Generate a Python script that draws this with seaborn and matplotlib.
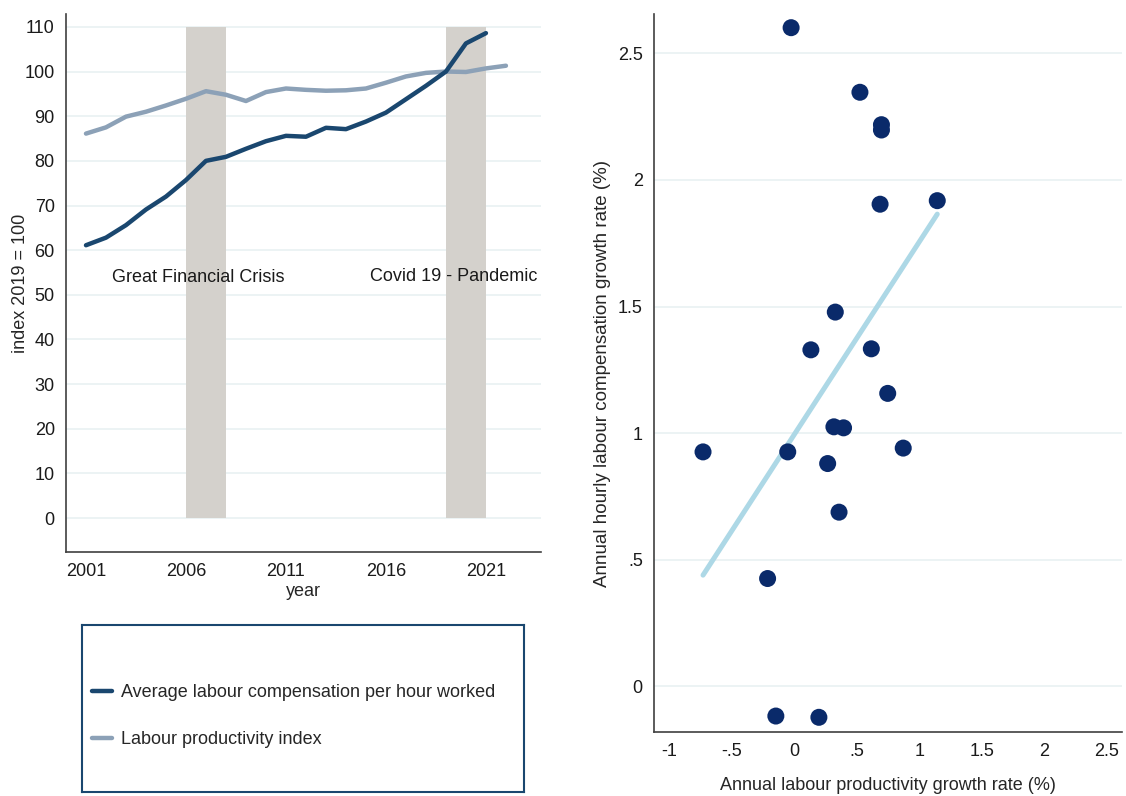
import matplotlib
matplotlib.use("Agg")
import matplotlib.pyplot as plt
import matplotlib.ticker as mticker
import pandas as pd
import seaborn as sns

# --- data ---
years_comp = list(range(2001, 2022))
compensation = [61.1, 62.8, 65.6, 69.1, 72.0, 75.7, 80.0, 80.9, 82.7, 84.4, 85.6,
                85.4, 87.4, 87.1, 88.8, 90.8, 93.8, 96.8, 100.0, 106.3, 108.6]
years_prod = list(range(2001, 2023))
productivity = [86.1, 87.5, 89.9, 91.0, 92.4, 93.9, 95.6, 94.8, 93.4, 95.4, 96.2,
                95.9, 95.7, 95.8, 96.2, 97.5, 98.9, 99.7, 100.0, 99.9, 100.7, 101.3]

crisis_start = [2006, 2019]
crisis_end = [2008, 2021]
crisis_top = 110
crisis_labels = ["Great Financial Crisis", "Covid 19 - Pandemic"]
crisis_label_x = [2002.3, 2015.2]
crisis_label_y = [53.8, 54.0]

prod_growth = [-0.024, 0.526, 0.698, 0.698, 0.687, 1.144, 0.329, 0.134, 0.617, 0.748,
               -0.728, -0.051, 0.318, 0.395, 0.872, 0.268, 0.359, -0.212, -0.146, 0.198]
comp_growth = [2.601, 2.346, 2.218, 2.197, 1.904, 1.918, 1.478, 1.329, 1.333, 1.157,
               0.926, 0.926, 1.025, 1.021, 0.941, 0.880, 0.688, 0.426, -0.117, -0.122]

NAVY = "#1a476f"
LIGHT = "#8ca1b7"
BAND = "#d4d1cc"
DOT = "#0a2a6a"
FIT = "#add8e6"
GRID = "#eaf2f3"
AXIS = "#404040"
FS = 13


def stata_fmt(v, pos):
    s = f"{v:g}"
    if s.startswith("0.") and len(s) > 2:
        s = s[1:]
    elif s.startswith("-0.") and len(s) > 3:
        s = "-" + s[2:]
    return s


def estilo(ax):
    for lado in ["top", "right"]:
        ax.spines[lado].set_visible(False)
    for lado in ["left", "bottom"]:
        ax.spines[lado].set_color(AXIS)
        ax.spines[lado].set_linewidth(1.2)
    ax.tick_params(axis="both", colors=AXIS, labelcolor="#1a1a1a", length=5,
                   width=1.0, labelsize=FS, pad=3)
    ax.yaxis.grid(True, color=GRID, linewidth=1.3)
    ax.xaxis.grid(False)
    ax.set_axisbelow(True)


sns.set_style("white")
plt.rcParams["font.family"] = ["Liberation Sans", "DejaVu Sans"]

fig = plt.figure(figsize=(11.26, 7.96), dpi=100)
ax1 = fig.add_axes([0.0586, 0.3065, 0.4218, 0.676])
ax2 = fig.add_axes([0.5808, 0.0804, 0.4156, 0.902])
ax_leg = fig.add_axes([82 / 1126, 4 / 796, 442 / 1126, 167 / 796])

# --- left panel: indices ---
ax1.bar(crisis_start, [crisis_top] * len(crisis_start),
        width=[e - s for s, e in zip(crisis_start, crisis_end)],
        align="edge", color=BAND, linewidth=0, zorder=1)

df_comp = pd.DataFrame({"year": years_comp, "index": compensation})
df_prod = pd.DataFrame({"year": years_prod, "index": productivity})
sns.lineplot(data=df_comp, x="year", y="index", color=NAVY, linewidth=3.2, ax=ax1,
             label="Average labour compensation per hour worked", zorder=3)
sns.lineplot(data=df_prod, x="year", y="index", color=LIGHT, linewidth=3.2, ax=ax1,
             label="Labour productivity index", zorder=2)

for txt, tx, ty in zip(crisis_labels, crisis_label_x, crisis_label_y):
    ax1.text(tx, ty, txt, fontsize=FS, va="center", ha="left", color="#1a1a1a", zorder=4)

ax1.set_xlim(2000.0, 2023.75)
ax1.set_ylim(-7.6, 112.9)
ax1.set_xticks([2001, 2006, 2011, 2016, 2021])
ax1.set_yticks(range(0, 111, 10))
ax1.set_xlabel("year", fontsize=FS)
ax1.set_ylabel("index 2019 = 100", fontsize=FS)
ax1.xaxis.set_label_coords(0.5, -0.057)
ax1.yaxis.set_label_coords(-0.078, 0.5)
estilo(ax1)

handles, labels = ax1.get_legend_handles_labels()
ax1.get_legend().remove()

# --- legend box ---
ax_leg.set_xticks([])
ax_leg.set_yticks([])
for sp in ax_leg.spines.values():
    sp.set_color(NAVY)
    sp.set_linewidth(1.5)
ax_leg.legend(handles, labels, loc="upper left", bbox_to_anchor=(0.022, 0.645),
              frameon=False, fontsize=FS, handlelength=1.15, handletextpad=0.45,
              labelspacing=1.65, borderpad=0, borderaxespad=0)

# --- right panel: scatter ---
df_sc = pd.DataFrame({"prod": prod_growth, "comp": comp_growth})
sns.regplot(data=df_sc, x="prod", y="comp", scatter=False, ci=None, ax=ax2,
            line_kws={"color": FIT, "linewidth": 3.6, "zorder": 2})
sns.scatterplot(data=df_sc, x="prod", y="comp", color=DOT, s=150, edgecolor="none",
                ax=ax2, zorder=3)

ax2.set_xlim(-1.12, 2.62)
ax2.set_ylim(-0.18, 2.655)
ax2.set_xticks([-1, -0.5, 0, 0.5, 1, 1.5, 2, 2.5])
ax2.set_yticks([0, 0.5, 1, 1.5, 2, 2.5])
ax2.xaxis.set_major_formatter(mticker.FuncFormatter(stata_fmt))
ax2.yaxis.set_major_formatter(mticker.FuncFormatter(stata_fmt))
ax2.set_xlabel("Annual labour productivity growth rate (%)", fontsize=FS)
ax2.set_ylabel("Annual hourly labour compensation growth rate (%)", fontsize=13.5)
ax2.xaxis.set_label_coords(0.5, -0.063)
ax2.yaxis.set_label_coords(-0.092, 0.5)
estilo(ax2)

fig.savefig("out.png", dpi=100)
